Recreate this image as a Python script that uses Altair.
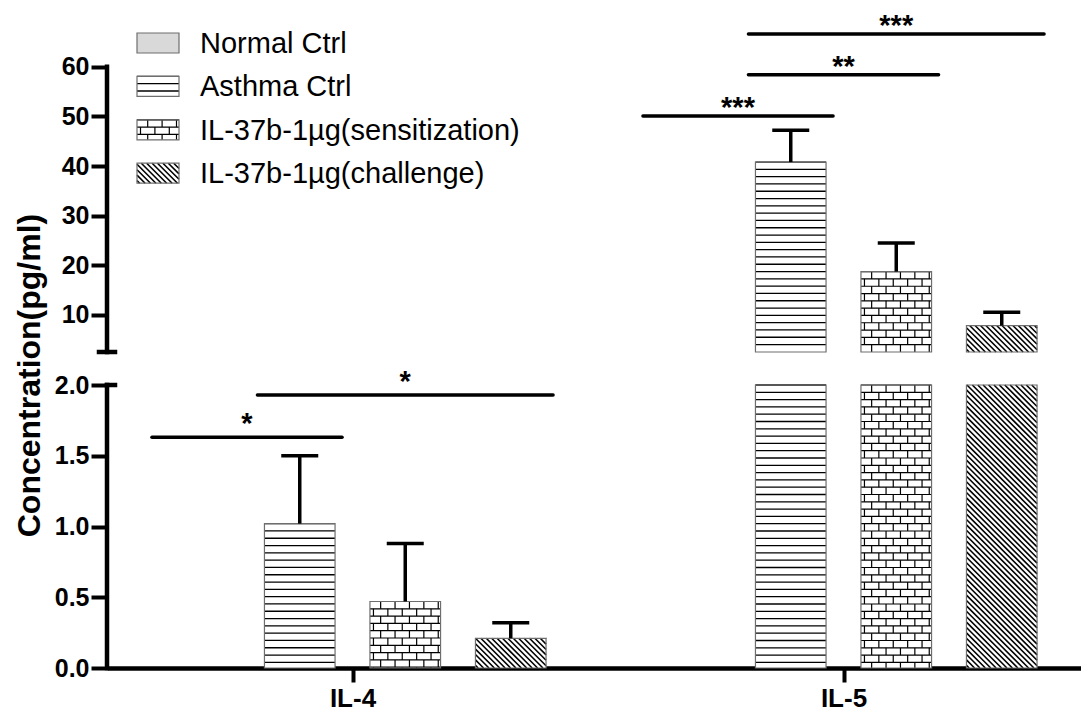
import json
import altair as alt
import pandas as pd

# ---------------- data ----------------
groups = ["IL-4", "IL-5"]
treatments = ["Normal Ctrl", "Asthma Ctrl", "IL-37b-1µg(sensitization)", "IL-37b-1µg(challenge)"]
il4_mean = [0.0, 1.02, 0.47, 0.21]
il4_sem = [0.0, 0.48, 0.41, 0.11]
il5_mean = [0.0, 40.8, 18.7, 7.8]
il5_sem = [0.0, 6.4, 5.8, 2.7]
sig_group = ["IL-4", "IL-4", "IL-5", "IL-5", "IL-5"]
sig_from = ["Normal Ctrl", "Asthma Ctrl", "Normal Ctrl", "Asthma Ctrl", "Asthma Ctrl"]
sig_to = ["Asthma Ctrl", "IL-37b-1µg(challenge)", "Asthma Ctrl",
          "IL-37b-1µg(sensitization)", "IL-37b-1µg(challenge)"]
sig_level = [1.63, 1.93, 50.1, 58.4, 66.6]
sig_label = ["*", "*", "***", "**", "***"]
low_ticks = [0.0, 0.5, 1.0, 1.5, 2.0]
up_ticks = [10, 20, 30, 40, 50, 60]
y_title = "Concentration(pg/ml)"

# ---------------- layout / style ----------------
FONT = "Liberation Sans"
W, H = 974, 660
PX_X = 491.0          # px per category band
PX_LOW = 141.5        # px per unit, lower segment
PX_UP = 4.96          # px per unit, upper segment
LOW_TOP = 2.0
UP_BOTTOM = 2.5
UP_BASE_PX = 316      # upper segment starts this far above the plot bottom
X_DOMAIN = [0, W / PX_X]
LOW_DOMAIN = [0, H / PX_LOW]
_up_min = UP_BOTTOM - UP_BASE_PX / PX_UP
UP_DOMAIN = [_up_min, _up_min + H / PX_UP]
STEP = 105.5 / PX_X
HALF = 35.3 / PX_X
CAP = 18.5 / PX_X
PAD = 7 / PX_X
ROW = 7.3
BRICK_W = 14.4
BRICK_OFF = [10.7, 3.5]
HATCH = 5.4

means = {"IL-4": il4_mean, "IL-5": il5_mean}
sems = {"IL-4": il4_sem, "IL-5": il5_sem}


def center(g, t):
    return groups.index(g) + 0.5 + (treatments.index(t) - 1.5) * STEP


def pattern(kind, x0, x1, y0, y1, py):
    segs = []
    w = (x1 - x0) * PX_X
    h = (y1 - y0) * py
    if h <= 0.5:
        return segs
    X = lambda p: x0 + p / PX_X
    Y = lambda p: y0 + p / py
    if kind in (1, 2):
        rows = []
        k = 0
        while h - k * ROW > 0.3:
            rows.append(h - k * ROW)
            k += 1
        for yy in rows:
            segs.append(dict(x=X(0), x2=X(w), y=Y(yy), y2=Y(yy), k=kind))
        if kind == 2:
            for k, yy in enumerate(rows):
                lo = max(yy - ROW, 0)
                xx = BRICK_OFF[k % 2]
                while xx < w - 0.5:
                    segs.append(dict(x=X(xx), x2=X(xx), y=Y(lo), y2=Y(yy), k=kind))
                    xx += BRICK_W
    elif kind == 3:
        c = HATCH / 2
        while c < w + h:
            xa = max(0, c - h)
            xb = min(w, c)
            if xb > xa:
                segs.append(dict(x=X(xa), x2=X(xb), y=Y(c - xa), y2=Y(c - xb), k=kind))
            c += HATCH
    return segs


low_bars, up_bars, low_pat, up_pat, low_err, up_err = [], [], [], [], [], []
for g in groups:
    for i, t in enumerate(treatments):
        v, e = means[g][i], sems[g][i]
        c = center(g, t)
        x0, x1 = c - HALF, c + HALF
        if v > 0:
            low_bars.append(dict(x=x0, x2=x1, y=0, y2=min(v, LOW_TOP), t=t))
            low_pat += pattern(i, x0, x1, 0, min(v, LOW_TOP), PX_LOW)
        if v > UP_BOTTOM:
            up_bars.append(dict(x=x0, x2=x1, y=UP_BOTTOM, y2=v, t=t))
            up_pat += pattern(i, x0, x1, UP_BOTTOM, v, PX_UP)
        if e > 0:
            top = v + e
            if v < LOW_TOP:
                low_err.append(dict(x=c, x2=c, y=v, y2=min(top, LOW_TOP)))
                if top <= LOW_TOP:
                    low_err.append(dict(x=c - CAP, x2=c + CAP, y=top, y2=top))
            if top > UP_BOTTOM:
                up_err.append(dict(x=c, x2=c, y=max(v, UP_BOTTOM), y2=top))
                up_err.append(dict(x=c - CAP, x2=c + CAP, y=top, y2=top))

# legend (drawn in upper segment units)
LEG_TOP = 64.8
LEG_STEP = 43.4 / PX_UP
SW_X0, SW_X1, SW_H = 30 / PX_X, 72 / PX_X, 10 / PX_UP
TXT_X = 93 / PX_X
leg_box, leg_txt = [], []
for i, t in enumerate(treatments):
    yc = LEG_TOP - i * LEG_STEP
    leg_box.append(dict(x=SW_X0, x2=SW_X1, y=yc - SW_H, y2=yc + SW_H, t=t))
    up_pat += pattern(i, SW_X0, SW_X1, yc - SW_H, yc + SW_H, PX_UP)
    leg_txt.append(dict(x=TXT_X, y=yc, label=t))

# significance brackets
low_sig, up_sig = [], []
for g, a, b, lv, lab in zip(sig_group, sig_from, sig_to, sig_level, sig_label):
    xa = center(g, a) - HALF - PAD
    xb = center(g, b) + HALF + PAD
    row = dict(x=xa, x2=xb, y=lv, y2=lv, xm=(xa + xb) / 2, label=lab)
    (low_sig if lv <= LOW_TOP else up_sig).append(row)

# axis lines
low_axis = pd.DataFrame([
    dict(x=0, x2=0, y=0, y2=max(low_ticks)),
    dict(x=0, x2=8 / PX_X, y=max(low_ticks), y2=max(low_ticks)),
])
up_axis = pd.DataFrame([
    dict(x=0, x2=0, y=UP_BOTTOM, y2=max(up_ticks)),
    dict(x=-8 / PX_X, x2=8 / PX_X, y=UP_BOTTOM, y2=UP_BOTTOM),
])

# ---------------- encodings ----------------
x_axis = alt.Axis(
    values=[i + 0.5 for i in range(len(groups))],
    labelExpr=json.dumps(groups) + "[floor(datum.value)]",
    title=None, grid=False, domainColor="black", domainWidth=4.5,
    tickColor="black", tickWidth=4, tickSize=14, labelColor="black",
    labelFont=FONT, labelFontSize=26, labelFontWeight="bold", labelPadding=3,
    labelFlush=False, orient="bottom",
)
x_scale = alt.Scale(domain=X_DOMAIN, nice=False, zero=False)


def X(f="x"):
    return alt.X(f"{f}:Q", scale=x_scale, axis=x_axis)


def Yl(f="y", axis=None):
    return alt.Y(f"{f}:Q", scale=alt.Scale(domain=LOW_DOMAIN, nice=False, zero=False), axis=axis)


def Yu(f="y", axis=None):
    return alt.Y(f"{f}:Q", scale=alt.Scale(domain=UP_DOMAIN, nice=False, zero=False), axis=axis)


fill_scale = alt.Scale(domain=treatments, range=["#d9d9d9", "white", "white", "white"])

common_y_axis = dict(
    orient="left", domain=False, grid=False, tickColor="black", tickWidth=4,
    tickSize=16, labelColor="black", labelFont=FONT, labelFontSize=25,
    labelFontWeight="bold", labelPadding=2,
)
low_y_axis = alt.Axis(
    values=low_ticks, format=".1f", title=y_title, titleFont=FONT,
    titleFontSize=32, titleFontWeight="bold", titleColor="black",
    titleAngle=270, titleAlign="center", titleBaseline="middle",
    titleX=-78, titleY=367, **common_y_axis,
)
up_y_axis = alt.Axis(values=up_ticks, format="d", title=None, **common_y_axis)

layers = []


def rects(df, Y, filled=True):
    if filled:
        m = alt.Chart(pd.DataFrame(df)).mark_rect(strokeWidth=0)
        return m.encode(x=X(), x2="x2:Q", y=Y(), y2="y2:Q",
                        fill=alt.Fill("t:N", scale=fill_scale, legend=None))
    m = alt.Chart(pd.DataFrame(df)).mark_rect(fillOpacity=0, stroke="#6e6e6e", strokeWidth=1.2)
    return m.encode(x=X(), x2="x2:Q", y=Y(), y2="y2:Q")


def rules(df, Y, width, color="black", cap="butt"):
    return alt.Chart(pd.DataFrame(df)).mark_rule(
        color=color, strokeWidth=width, strokeCap=cap
    ).encode(x=X(), x2="x2:Q", y=Y(), y2="y2:Q")


layers.append(rects(low_bars, Yl))
layers.append(rects(up_bars + leg_box, Yu))
widths = {1: 1.3, 2: 1.2, 3: 1.6}
for kind in (1, 2, 3):
    lp = [s for s in low_pat if s["k"] == kind]
    upp = [s for s in up_pat if s["k"] == kind]
    if lp:
        layers.append(rules(lp, Yl, widths[kind]))
    if upp:
        layers.append(rules(upp, Yu, widths[kind]))
layers.append(rects(low_bars, Yl, filled=False))
layers.append(rects(up_bars + leg_box, Yu, filled=False))
layers.append(rules(low_err, Yl, 3.5))
layers.append(rules(up_err, Yu, 3.5))
layers.append(rules(low_sig, Yl, 3.5, cap="round"))
layers.append(rules(up_sig, Yu, 3.5, cap="round"))

for sig, Y, shift in ((low_sig, Yl, -4), (up_sig, Yu, 1)):
    layers.append(
        alt.Chart(pd.DataFrame(sig)).mark_text(
            font=FONT, fontSize=29, fontWeight="bold", color="black", align="center",
            baseline="alphabetic", dy=shift,
        ).encode(x=X("xm"), y=Y(), text="label:N")
    )

layers.append(
    alt.Chart(pd.DataFrame(leg_txt)).mark_text(
        font=FONT, fontSize=29, color="black", align="left", baseline="middle", dy=1,
    ).encode(x=X(), y=Yu(), text="label:N")
)

layers.append(
    alt.Chart(low_axis).mark_rule(color="black", strokeWidth=4.5, strokeCap="square")
    .encode(x=X(), x2="x2:Q", y=Yl("y", low_y_axis), y2="y2:Q")
)
layers.append(
    alt.Chart(up_axis).mark_rule(color="black", strokeWidth=4.5, strokeCap="square")
    .encode(x=X(), x2="x2:Q", y=Yu("y", up_y_axis), y2="y2:Q")
)

chart = (
    alt.layer(*layers)
    .resolve_scale(y="independent", fill="shared")
    .properties(
        width=W, height=H,
        padding={"left": 99, "top": 0, "right": 0, "bottom": 48},
        autosize=alt.AutoSizeParams(type="none"),
        background="white",
    )
    .configure_view(stroke=None)
)

chart.save("out.html", embed_options={"renderer": "svg", "actions": False})
